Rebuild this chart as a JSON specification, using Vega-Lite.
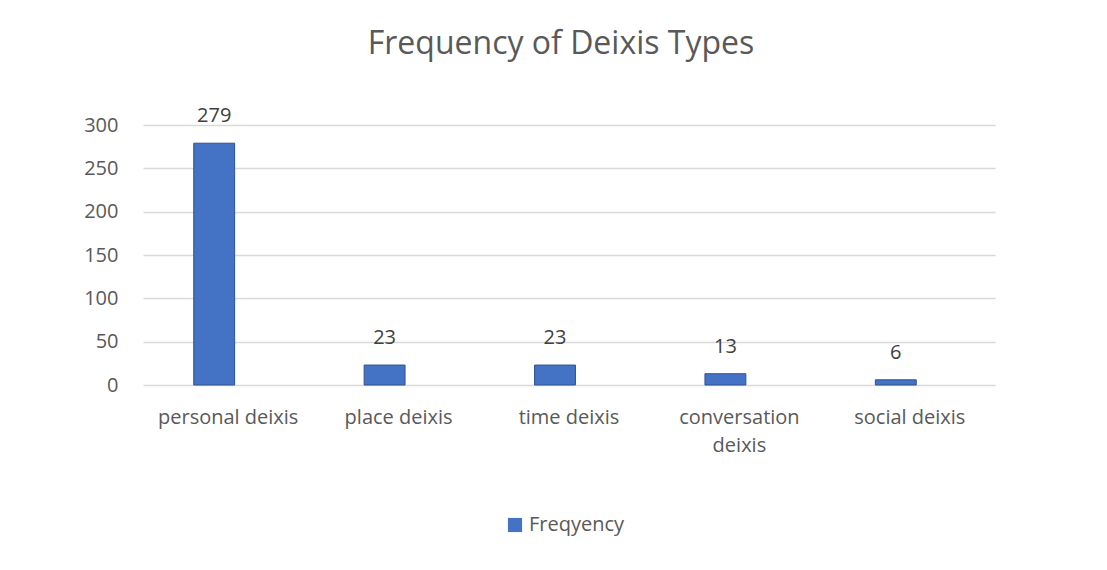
{
  "$schema": "https://vega.github.io/schema/vega-lite/v6.json",
  "autosize": "none",
  "width": 852,
  "height": 260,
  "padding": {"left": 143, "top": 125, "right": 112, "bottom": 185},
  "background": "white",
  "title": {
    "text": "Frequency of Deixis Types",
    "fontSize": 32,
    "font": "Open Sans",
    "fontWeight": "normal",
    "color": "#595959",
    "anchor": "middle",
    "offset": 45,
    "dx": -8
  },
  "data": {
    "values": [
      {"type": "personal deixis", "value": 279, "series": "Freqyency"},
      {"type": "place deixis", "value": 23, "series": "Freqyency"},
      {"type": "time deixis", "value": 23, "series": "Freqyency"},
      {"type": "conversation deixis", "value": 13, "series": "Freqyency"},
      {"type": "social deixis", "value": 6, "series": "Freqyency"}
    ]
  },
  "config": {
    "view": {"stroke": null},
    "font": "Open Sans",
    "axis": {
      "labelFont": "Open Sans",
      "labelFontSize": 20,
      "labelColor": "#595959",
      "domain": false,
      "ticks": false
    }
  },
  "encoding": {
    "x": {
      "field": "type",
      "type": "nominal",
      "sort": null,
      "scale": {"paddingInner": 0.76, "paddingOuter": 0.38},
      "axis": {
        "title": null,
        "labelAngle": 0,
        "labelPadding": 22,
        "labelLineHeight": 28,
        "labelExpr": "datum.label == 'conversation deixis' ? ['conversation', 'deixis'] : datum.label"
      }
    },
    "y": {
      "field": "value",
      "type": "quantitative",
      "scale": {"domain": [0, 300]},
      "axis": {
        "title": null,
        "values": [0, 50, 100, 150, 200, 250, 300],
        "gridColor": "#D9D9D9",
        "gridWidth": 1.5,
        "labelPadding": 25
      }
    }
  },
  "layer": [
    {
      "mark": {"type": "bar", "stroke": "#2F528F", "strokeWidth": 1, "xOffset": -14},
      "encoding": {
        "color": {
          "field": "series",
          "type": "nominal",
          "scale": {"range": ["#4472C4"]},
          "legend": {
            "title": null,
            "orient": "none",
            "legendX": 362,
            "legendY": 390,
            "symbolType": "square",
            "symbolSize": 200,
            "symbolStrokeWidth": 0,
            "labelFontSize": 20,
            "labelFont": "Open Sans",
            "labelColor": "#595959"
          }
        }
      }
    },
    {
      "mark": {"type": "text", "baseline": "bottom", "dy": -17, "xOffset": -14, "fontSize": 20, "color": "#404040", "font": "Open Sans"},
      "encoding": {"text": {"field": "value", "type": "quantitative"}}
    }
  ]
}
